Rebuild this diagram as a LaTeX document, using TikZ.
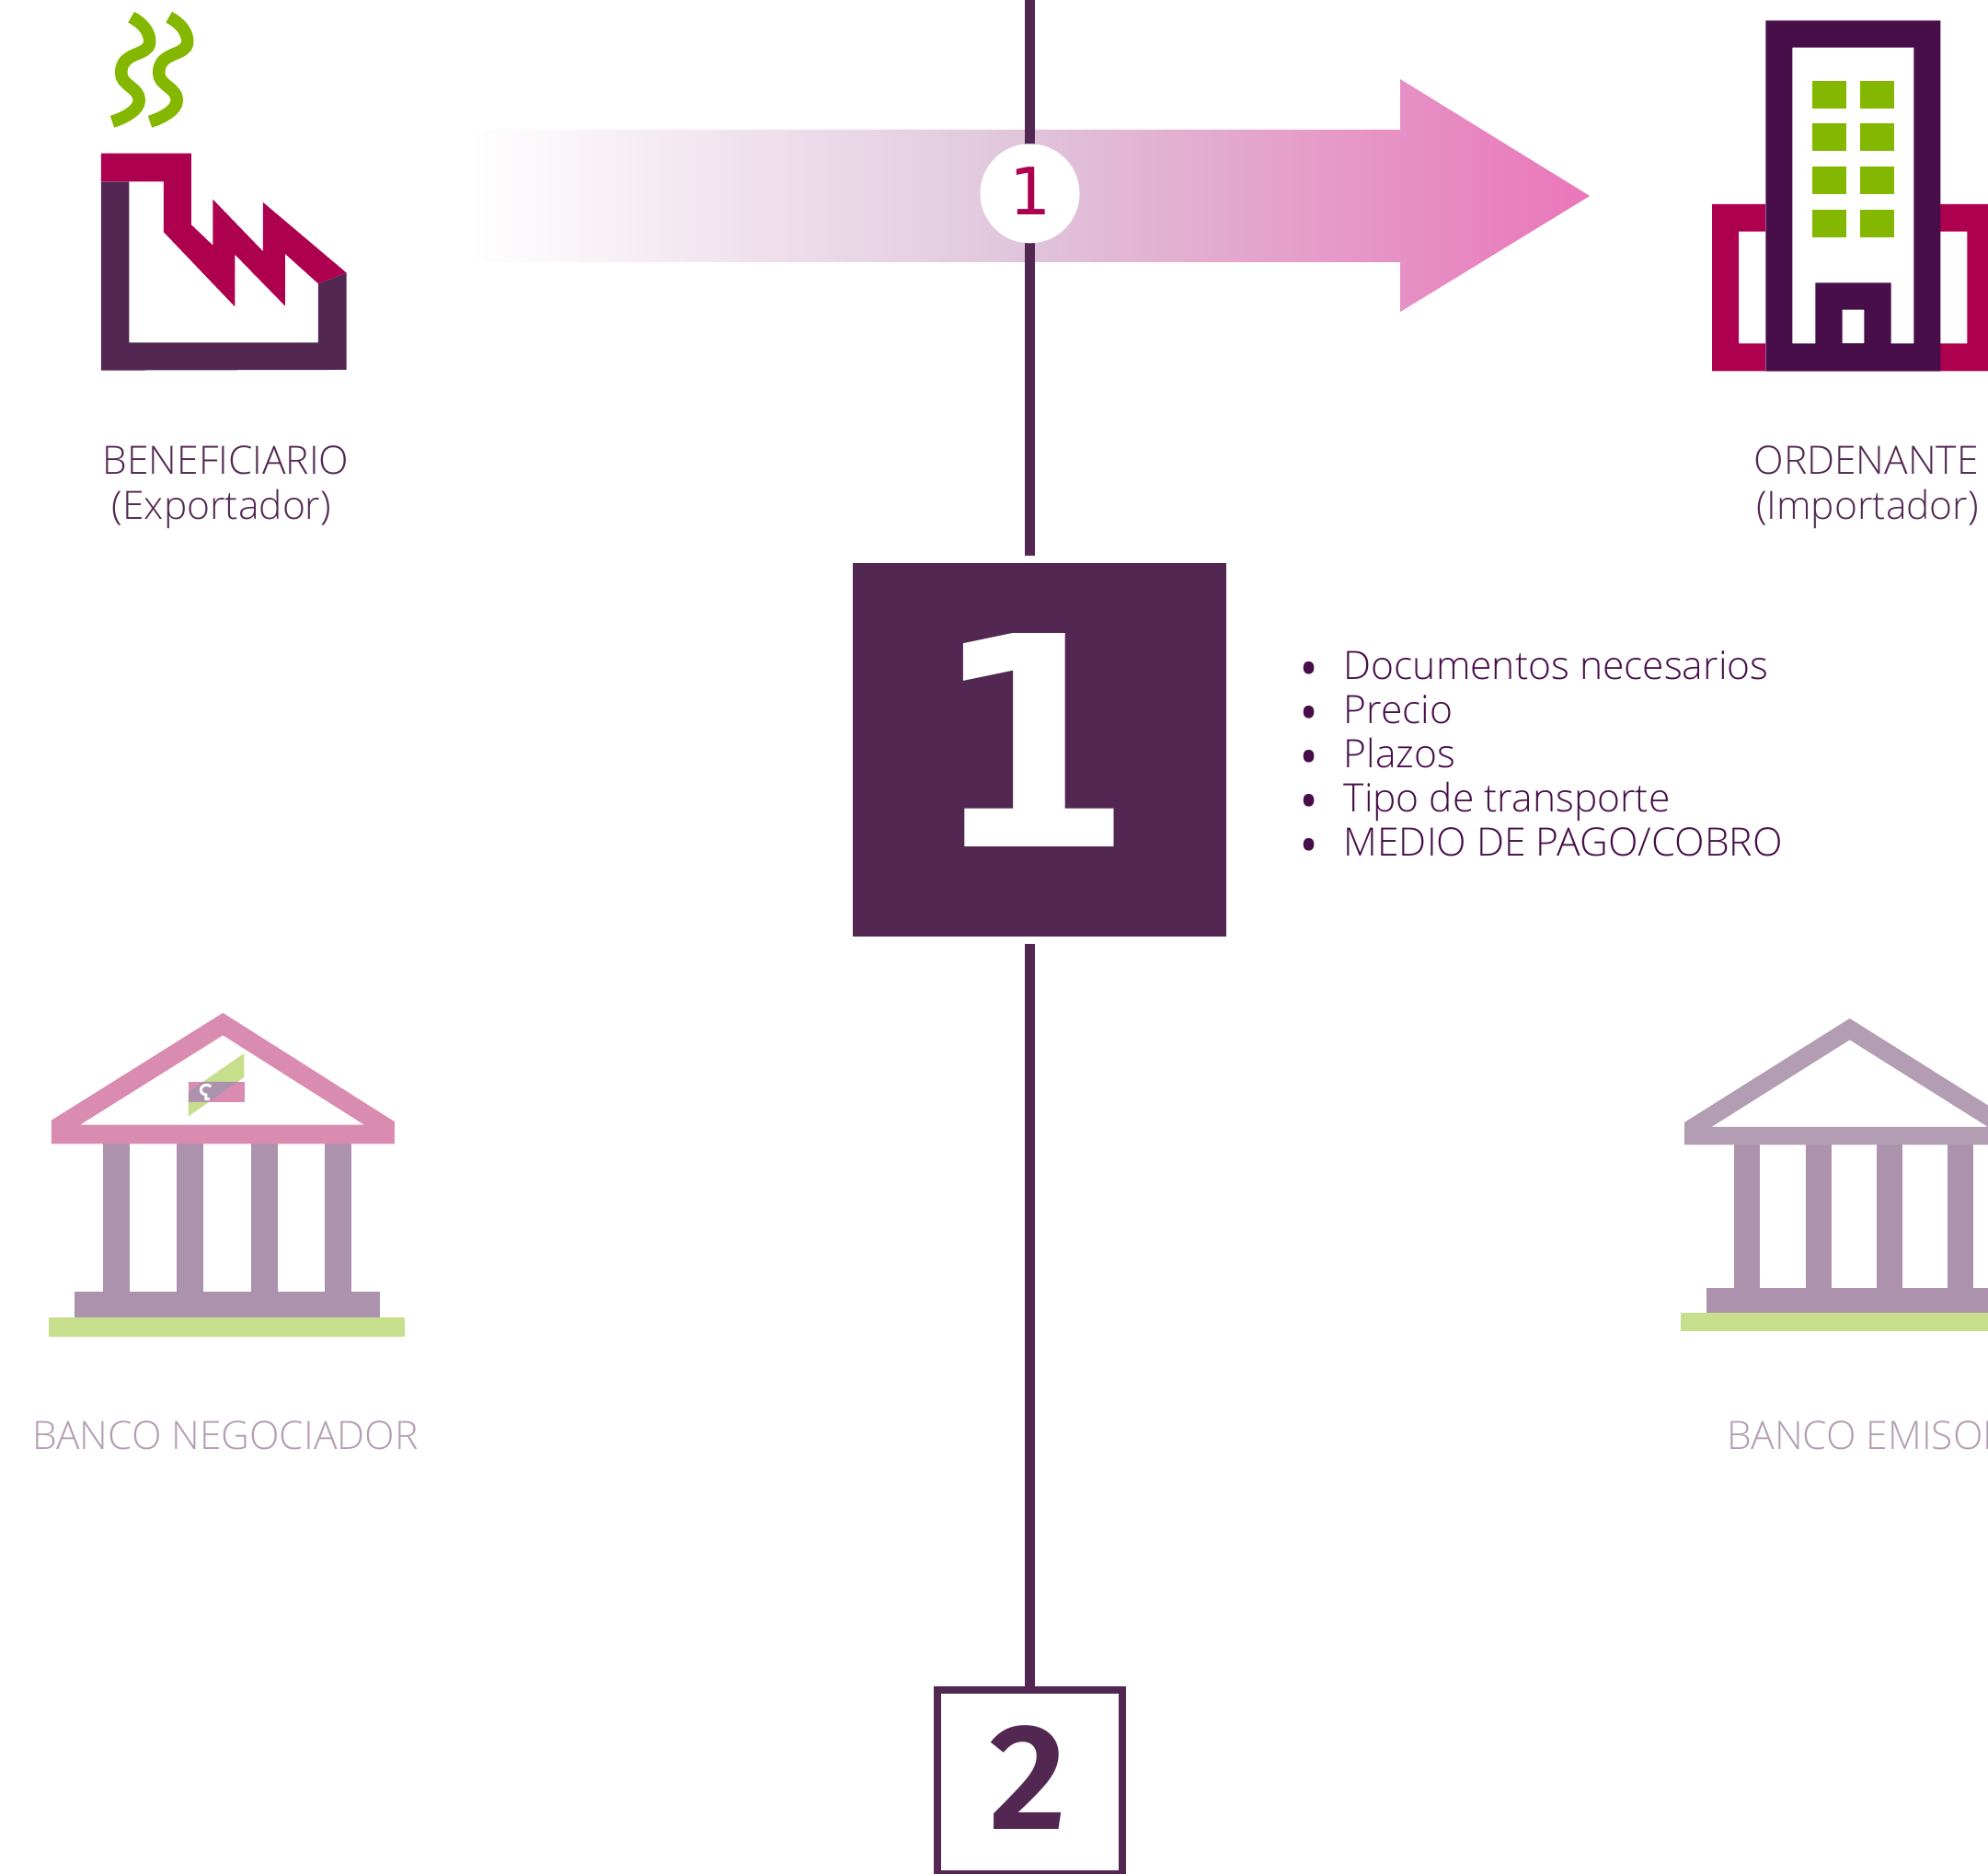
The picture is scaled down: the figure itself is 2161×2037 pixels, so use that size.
\documentclass[tikz,border=0pt]{standalone}
\usepackage{fontspec}
\setmainfont{Open Sans}[UprightFont=* Light]
\newfontfamily\numfont{Fira Sans}[UprightFont=* SemiBold]
\newfontfamily\digitfont{DejaVu Sans}
\definecolor{plum}{HTML}{522852}
\definecolor{darkplum}{HTML}{470E4A}
\definecolor{wine}{HTML}{AD004F}
\definecolor{leaf}{HTML}{84B800}
\definecolor{paleleaf}{HTML}{C7DE8C}
\definecolor{palepink}{HTML}{D98BB0}
\definecolor{column}{HTML}{AD92AD}
\definecolor{roof}{HTML}{B39DB2}
\definecolor{fademid}{HTML}{E0C4DA}
\definecolor{fadeend}{HTML}{EA76BA}
\tikzset{
  party/.style={inner sep=0pt, anchor=base, text=plum, font=\fontsize{12.1}{14}\selectfont},
  bank/.style={inner sep=0pt, anchor=base, text=roof, font=\fontsize{12.1}{14}\selectfont},
  item/.style={inner sep=0pt, anchor=base west, text=darkplum, font=\fontsize{12.1}{14}\selectfont},
  stem/.style={draw=plum, line width=0.11cm},
}
\begin{document}
\begin{tikzpicture}[x=0.01cm, y=-0.01cm]
\clip (0,0) rectangle (2161,2037);
% arrow
\shade[left color=white, right color=fadeend, middle color=fademid]
  (510,141) -- (1522,141) -- (1522,86) -- (1728,213) -- (1522,339) -- (1522,285) -- (510,285) -- cycle;
% timeline
\coordinate (lineTop) at (1119.5,0);
\coordinate (lineEnd) at (1119.5,604);
\coordinate (lineStart) at (1119.5,1026);
\node[shape=rectangle, fill=plum, minimum size=4.05cm, inner sep=0pt] (box1) at (1130,815) {};
\node[shape=rectangle, draw=plum, fill=white, line width=0.08cm, minimum size=2cm, inner sep=0pt] (box2) at (1119.5,1937) {};
\draw[stem] (lineTop) -- (lineEnd);
\draw[stem] (lineStart) -- (box2.north);
\node[shape=circle, fill=white, minimum size=1.08cm, inner sep=0pt] (badge) at (1119.5,210.3) {};
\node[inner sep=0pt, anchor=base, text=wine, font=\digitfont\fontsize{20.2}{22}\selectfont] (badgenum) at (1120.5,234) {1};
\node[inner sep=0pt, anchor=base, text=white, font=\digitfont\bfseries\fontsize{90.5}{92}\selectfont] (bignum) at (1122,920) {1};
\node[inner sep=0pt, anchor=base, text=plum, font=\numfont\fontsize{46.7}{48}\selectfont] (nextnum) at (1118,1988) {2};
% factory
\begin{scope}[shift={(40,0)}, scale=0.3333]
\fill[plum] (210,592) -- (301,592) -- (301,1117) -- (918,1117) -- (918,925) -- (1010,890) -- (1010,1206) -- (210,1208) -- cycle;
\fill[wine] (210,500) -- (504,500) -- (504,733) -- (574,800) -- (574,650) -- (738,820) -- (738,660) -- (1010,890) -- (918,925) -- (810,828) -- (810,998) -- (646,830) -- (646,1000) -- (414,757) -- (414,592) -- (210,592) -- cycle;
\foreach \dx in {0,123}
  \draw[leaf, line width=0.135cm, xshift=\dx*0.01cm] (308,56) .. controls (345,75) and (370,105) .. (368,138) .. controls (366,185) and (275,165) .. (275,238) .. controls (275,280) and (335,285) .. (334,328) .. controls (333,360) and (285,385) .. (246,397);
\end{scope}
% building
\begin{scope}[shift={(1840,0)}, scale=0.3333]
\fill[wine, even odd rule] (63,666) rectangle (1100,1210) (150,755) rectangle (895,1120);
\fill[white] (238,67) rectangle (808,1210);
\fill[darkplum, even odd rule] (238,67) rectangle (808,1210) (325,155) rectangle (721,1120);
\fill[darkplum, even odd rule] (400,922) rectangle (647,1125) (488,1010) rectangle (559,1120);
\foreach \wx in {390,546}
  \foreach \wy in {264,402,543,684}
    \fill[leaf] (\wx,\wy) rectangle ++(111,90);
\end{scope}
% left bank
\begin{scope}[shift={(30,1080)}, scale=0.3333]
\foreach \cx in {246,486,729,969}
  \fill[column] (\cx,490) rectangle ++(87,482);
\fill[column] (153,972) rectangle (1149,1058);
\fill[paleleaf] (69,1056) rectangle (1230,1118);
\fill[palepink, even odd rule] (78,413) -- (637,63) -- (1197,418) -- (1197,490) -- (78,490) -- cycle (171,428) -- (637,136) -- (1098,428) -- cycle;
\fill[paleleaf] (525,320) -- (706,195) -- (706,273) -- (525,400) -- cycle;
\fill[palepink] (525,288) rectangle (708,353);
\fill[column] (525,320) -- (571,288) -- (685,288) -- (592,353) -- (525,353) -- cycle;
\draw[white, line width=0.03cm] (598,303) .. controls (585,292) and (565,300) .. (565,313) .. controls (565,325) and (575,330) .. (582,330) -- (582,344) -- (594,344);
\end{scope}
% right bank
\begin{scope}[shift={(1800,1090)}, scale=0.3333]
\foreach \cx in {255,489,720,951}
  \fill[column] (\cx,463) rectangle ++(84,467);
\fill[column] (165,930) rectangle (1099,1013);
\fill[paleleaf] (81,1011) rectangle (1183,1071);
\fill[roof, even odd rule] (93,390) -- (632,51) -- (1171,390) -- (1171,463) -- (93,463) -- cycle (181,405) -- (632,121) -- (1083,405) -- cycle;
\end{scope}
% labels
\node[party] (benef) at (245.5,516) {BENEFICIARIO};
\node[party] (exporter) at (241,564) {(Exportador)};
\node[party] (orden) at (2028.5,516) {ORDENANTE};
\node[party] (importer) at (2030,564) {(Importador)};
\node[bank] (negoc) at (245,1575) {BANCO NEGOCIADOR};
\node[bank, anchor=base west] (emisor) at (1877,1575) {BANCO EMISOR};
\foreach \txt [count=\i] in {Documentos necesarios, Precio, Plazos, Tipo de transporte, MEDIO DE PAGO/COBRO}
  \node[item] (item\i) at (1408, 690.7+48*\i) {\makebox[0.52cm][l]{\raisebox{-0.16cm}[0pt][0pt]{\fontsize{22}{22}\selectfont\textbullet}}\txt};
\end{tikzpicture}
\end{document}
